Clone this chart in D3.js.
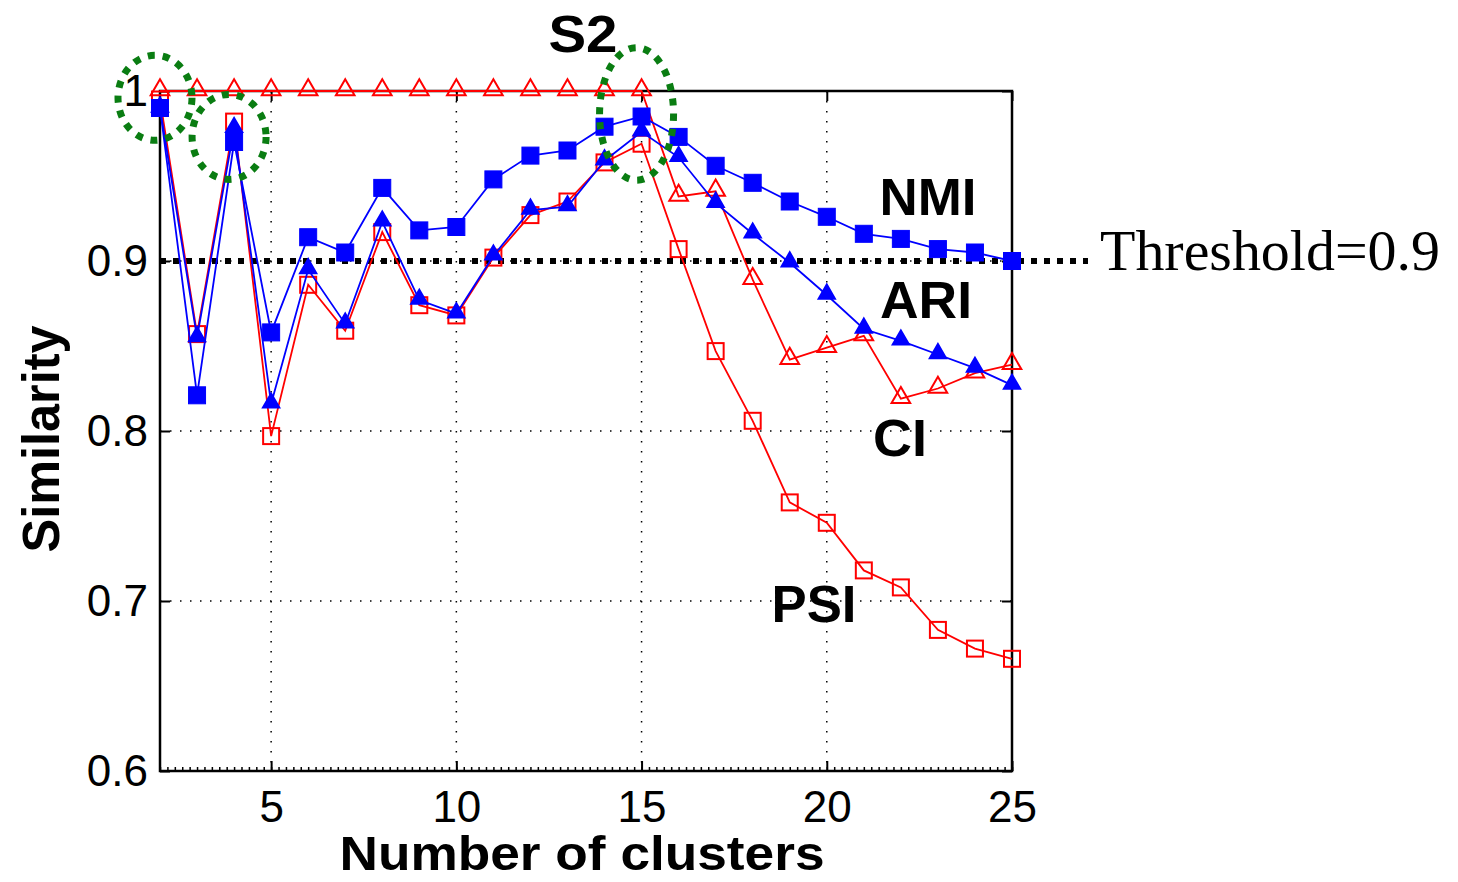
<!DOCTYPE html>
<html>
<head>
<meta charset="utf-8">
<script src="https://d3js.org/d3.v7.min.js"></script>
<style>
  body { margin: 0; background: #fff; }
  svg { display: block; }
</style>
</head>
<body>
<svg id="chart" width="1458" height="882"></svg>
<script>
// values
var clusters = [2, 3, 4, 5, 6, 7, 8, 9, 10, 11, 12, 13, 14, 15, 16, 17, 18, 19, 20, 21, 22, 23, 24, 25];
var nmi = [0.990, 0.821, 0.970, 0.858, 0.914, 0.905, 0.943, 0.918, 0.920, 0.948, 0.962, 0.965, 0.979, 0.985,
           0.973, 0.956, 0.946, 0.935, 0.926, 0.916, 0.913, 0.907, 0.905, 0.900];
var ari = [0.990, 0.855, 0.978, 0.816, 0.895, 0.863, 0.923, 0.877, 0.869, 0.903, 0.930, 0.932, 0.959, 0.976,
           0.961, 0.934, 0.916, 0.899, 0.880, 0.860, 0.853, 0.845, 0.837, 0.827];
var ci  = [1.000, 1.000, 1.000, 1.000, 1.000, 1.000, 1.000, 1.000, 1.000, 1.000, 1.000, 1.000, 1.000, 1.000,
           0.938, 0.941, 0.889, 0.842, 0.849, 0.856, 0.819, 0.825, 0.834, 0.839];
var psi = [0.995, 0.857, 0.982, 0.797, 0.886, 0.859, 0.917, 0.874, 0.868, 0.902, 0.927, 0.935, 0.958, 0.969,
           0.907, 0.847, 0.806, 0.758, 0.746, 0.718, 0.708, 0.683, 0.672, 0.666];
var xTicks = [5, 10, 15, 20, 25];
var yTicks = [0.6, 0.7, 0.8, 0.9, 1];
var yGrid = [0.7, 0.8, 0.9];
var xGrid = [5, 10, 15, 20];
var threshold = 0.9;
// circled points: [clusters, similarity at centre, half-height in similarity units]
var highlights = [[2, 0.996, 0.025], [4, 0.973, 0.025], [15, 0.9865, 0.039]];

var svg = d3.select("#chart");
var pLeft = 160, pRight = 1012, pTop = 91, pBottom = 771;

var x = d3.scaleLinear().domain([2, 25]).range([pLeft, pRight]);
var y = d3.scaleLinear().domain([0.6, 1]).range([pBottom, pTop]);

// grid
var grid = svg.append("g").attr("class", "grid")
  .attr("stroke", "#000").attr("stroke-width", 1.5).attr("stroke-dasharray", "1.5,8.5");
grid.selectAll("line.gx").data(xGrid).enter().append("line")
  .attr("x1", function(d) { return x(d); }).attr("x2", function(d) { return x(d); })
  .attr("y1", pTop).attr("y2", pBottom);
grid.selectAll("line.gy").data(yGrid).enter().append("line")
  .attr("y1", function(d) { return y(d); }).attr("y2", function(d) { return y(d); })
  .attr("x1", pLeft).attr("x2", pRight);

// threshold line
svg.append("line")
  .attr("x1", pLeft).attr("x2", 1088)
  .attr("y1", y(threshold)).attr("y2", y(threshold))
  .attr("stroke", "#000").attr("stroke-width", 6).attr("stroke-dasharray", "6,7");

// axes
var fontTick = "Arial, 'Liberation Sans', sans-serif";
var xAxis = svg.append("g").attr("transform", "translate(0," + pBottom + ")")
  .call(d3.axisBottom(x).tickValues(xTicks).tickSizeInner(-10).tickSizeOuter(0).tickPadding(20));
var xMinor = svg.append("g").attr("transform", "translate(0," + pBottom + ")")
  .call(d3.axisBottom(x).ticks(115).tickSizeInner(-4).tickSizeOuter(0).tickFormat(""));
var xTop = svg.append("g").attr("transform", "translate(0," + pTop + ")")
  .call(d3.axisTop(x).tickValues(xTicks).tickSizeInner(-10).tickSizeOuter(0).tickFormat(""));
var yAxis = svg.append("g").attr("transform", "translate(" + pLeft + ",0)")
  .call(d3.axisLeft(y).tickValues(yTicks).tickSizeInner(-10).tickSizeOuter(0).tickPadding(12)
    .tickFormat(function(d) { return d === 1 ? "1" : d3.format(".1f")(d); }));
var yRight = svg.append("g").attr("transform", "translate(" + pRight + ",0)")
  .call(d3.axisRight(y).tickValues(yTicks).tickSizeInner(-10).tickSizeOuter(0).tickFormat(""));

[xAxis, xMinor, xTop, yAxis, yRight].forEach(function(g) {
  g.select(".domain").remove();
  g.selectAll(".tick line").attr("stroke", "#000").attr("stroke-width", 2);
  g.selectAll("text").attr("font-family", fontTick).attr("font-size", 44).attr("fill", "#000");
});
xMinor.selectAll(".tick line").attr("stroke-width", 1.5);

// box
svg.append("rect").attr("x", pLeft).attr("y", pTop)
  .attr("width", pRight - pLeft).attr("height", pBottom - pTop)
  .attr("fill", "none").attr("stroke", "#000").attr("stroke-width", 2.5);

// series
var line = d3.line()
  .x(function(d) { return x(d[0]); })
  .y(function(d) { return y(d[1]); });

function pairs(vals) { return clusters.map(function(c, i) { return [c, vals[i]]; }); }

var series = [
  { vals: psi, color: "#ff0000", shape: "square", filled: false },
  { vals: ci,  color: "#ff0000", shape: "triangle", filled: false },
  { vals: ari, color: "#0000ff", shape: "triangle", filled: true },
  { vals: nmi, color: "#0000ff", shape: "square", filled: true }
];

series.forEach(function(s) {
  var g = svg.append("g");
  var pts = pairs(s.vals);
  g.append("path").datum(pts).attr("d", line)
    .attr("fill", "none").attr("stroke", s.color).attr("stroke-width", 1.8);
  if (s.shape === "square") {
    var sz = s.filled ? 17 : 16;
    g.selectAll("rect").data(pts).enter().append("rect")
      .attr("x", function(d) { return x(d[0]) - sz / 2; })
      .attr("y", function(d) { return y(d[1]) - sz / 2; })
      .attr("width", sz).attr("height", sz)
      .attr("fill", s.filled ? s.color : "none")
      .attr("stroke", s.color).attr("stroke-width", s.filled ? 1 : 2);
  } else {
    var sym = d3.symbol().type(d3.symbolTriangle).size(s.filled ? 115 : 150);
    g.selectAll("path.m").data(pts).enter().append("path").attr("class", "m")
      .attr("transform", function(d) { return "translate(" + x(d[0]) + "," + (y(d[1]) - 1) + ")"; })
      .attr("d", sym)
      .attr("fill", s.filled ? s.color : "none")
      .attr("stroke", s.color).attr("stroke-width", 2);
  }
});

// highlighted points
svg.append("g").selectAll("ellipse").data(highlights).enter().append("ellipse")
  .attr("cx", function(d) { return x(d[0]) - 5; })
  .attr("cy", function(d) { return y(d[1]); })
  .attr("rx", 37)
  .attr("ry", function(d) { return y(0.6) - y(0.6 + d[2]); })
  .attr("fill", "none").attr("stroke", "#0a7d12").attr("stroke-width", 7)
  .attr("stroke-dasharray", "7,8");

// labels
var fontBold = "Arial, 'Liberation Sans', sans-serif";
function label(txt, px, py, w) {
  svg.append("text").attr("x", px).attr("y", py)
    .attr("text-anchor", "middle").attr("font-family", fontBold)
    .attr("font-weight", "bold").attr("font-size", 52)
    .attr("textLength", w).attr("lengthAdjust", "spacingAndGlyphs").text(txt);
}
label("S2", 583, 52, 69);
label("NMI", 928, 215, 97);
label("ARI", 926, 318, 92);
label("CI", 900, 456, 54);
label("PSI", 814, 622, 85);

svg.append("text").attr("x", 1100).attr("y", 270)
  .attr("font-family", "'Times New Roman', 'Liberation Serif', serif")
  .attr("font-size", 58).attr("textLength", 340).attr("lengthAdjust", "spacingAndGlyphs")
  .text("Threshold=0.9");

svg.append("text").attr("x", 582).attr("y", 870).attr("text-anchor", "middle")
  .attr("font-family", fontBold).attr("font-weight", "bold").attr("font-size", 48)
  .attr("textLength", 485).attr("lengthAdjust", "spacingAndGlyphs")
  .text("Number of clusters");

svg.append("text").attr("transform", "translate(59,439) rotate(-90)").attr("text-anchor", "middle")
  .attr("font-family", fontBold).attr("font-weight", "bold").attr("font-size", 52)
  .attr("textLength", 227).attr("lengthAdjust", "spacingAndGlyphs")
  .text("Similarity");
</script>
</body>
</html>
